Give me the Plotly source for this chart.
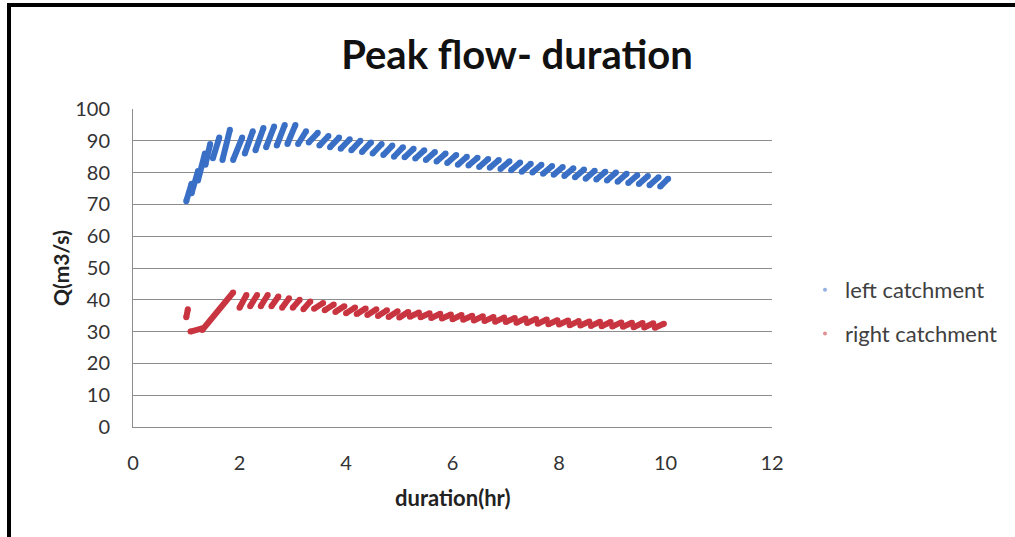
import plotly.graph_objects as go

# ---- data: each "tooth" of the sawtooth (start t, start Q, end t, end Q)
left_t0 = [1.00, 1.10, 1.22, 1.36, 1.50, 1.68, 1.88, 2.10, 2.30, 2.50, 2.70, 2.90, 3.10,
           3.30, 3.50, 3.70, 3.90, 4.10, 4.30, 4.50, 4.70, 4.90, 5.10, 5.30, 5.50, 5.70, 5.90,
           6.10, 6.30, 6.50, 6.70, 6.90, 7.10, 7.30, 7.50, 7.70, 7.90, 8.10, 8.30, 8.50, 8.70,
           8.90, 9.10, 9.30, 9.50, 9.70, 9.90]
left_q0 = [71.0, 73.5, 77.5, 82.5, 84.5, 84.0, 84.0, 86.0, 87.0, 88.0, 88.5, 89.0, 89.0,
           89.5, 88.5, 88.0, 87.5, 87.0, 86.5, 86.0, 85.5, 85.0, 84.8, 84.4, 84.0, 83.5, 83.0,
           82.5, 82.2, 81.8, 81.5, 81.1, 80.7, 80.3, 80.0, 79.6, 79.3, 78.9, 78.5, 78.1, 77.8,
           77.5, 77.1, 76.7, 76.4, 76.0, 75.6]
left_t1 = [1.10, 1.22, 1.35, 1.45, 1.62, 1.82, 2.05, 2.25, 2.45, 2.65, 2.85, 3.05, 3.25,
           3.47, 3.67, 3.87, 4.07, 4.27, 4.47, 4.67, 4.87, 5.07, 5.27, 5.47, 5.67, 5.87, 6.07,
           6.27, 6.47, 6.67, 6.87, 7.07, 7.27, 7.47, 7.67, 7.87, 8.07, 8.27, 8.47, 8.67, 8.87,
           9.07, 9.27, 9.47, 9.67, 9.87, 10.05]
left_q1 = [76.5, 80.5, 86.0, 89.0, 91.0, 93.5, 91.0, 93.0, 94.0, 94.5, 95.0, 95.0, 93.0,
           92.5, 91.5, 91.0, 90.5, 90.0, 89.5, 89.0, 88.5, 88.0, 87.5, 87.0, 86.5, 86.0, 85.5,
           85.0, 84.7, 84.3, 84.0, 83.6, 83.2, 82.8, 82.5, 82.1, 81.8, 81.4, 81.0, 80.6, 80.3,
           80.0, 79.6, 79.2, 78.9, 78.5, 78.1]

right_t0 = [1.00, 1.08, 1.30, 2.00, 2.20, 2.40, 2.60, 2.80, 3.00, 3.20,
            3.40, 3.60, 3.80, 4.00, 4.20, 4.40, 4.60, 4.80, 5.00, 5.20, 5.40, 5.60, 5.80,
            6.00, 6.20, 6.40, 6.60, 6.80, 7.00, 7.20, 7.40, 7.60, 7.80, 8.00, 8.20, 8.40,
            8.60, 8.80, 9.00, 9.20, 9.40, 9.60, 9.80]
right_q0 = [34.5, 30.0, 30.5, 37.5, 38.0, 38.0, 38.0, 37.5, 37.5, 37.0,
            37.2, 36.7, 36.2, 35.8, 35.5, 35.2, 34.9, 34.6, 34.4, 34.7, 34.5, 34.3, 34.1,
            33.9, 33.7, 33.5, 33.3, 33.1, 33.0, 32.8, 32.7, 32.5, 32.3, 32.2, 32.0, 31.9,
            31.8, 31.7, 31.6, 31.5, 31.4, 31.3, 31.2]
right_t1 = [1.03, 1.30, 1.88, 2.13, 2.33, 2.53, 2.73, 2.93, 3.13, 3.33,
            3.57, 3.77, 3.97, 4.17, 4.37, 4.57, 4.77, 4.97, 5.17, 5.37, 5.57, 5.77, 5.97,
            6.17, 6.37, 6.57, 6.77, 6.97, 7.17, 7.37, 7.57, 7.77, 7.97, 8.17, 8.37, 8.57,
            8.77, 8.97, 9.17, 9.37, 9.57, 9.77, 9.97]
right_q1 = [37.0, 31.0, 42.3, 41.5, 41.5, 41.5, 41.0, 40.5, 40.0, 39.5,
            39.0, 38.5, 38.0, 37.6, 37.3, 37.0, 36.7, 36.4, 36.2, 36.0, 35.8, 35.6, 35.4,
            35.2, 35.0, 34.8, 34.6, 34.4, 34.3, 34.1, 34.0, 33.8, 33.6, 33.5, 33.3, 33.2,
            33.1, 33.0, 32.9, 32.8, 32.7, 32.6, 32.5]

series_names = ["left catchment", "right catchment"]
x_ticks = [0, 2, 4, 6, 8, 10, 12]
y_ticks = [0, 10, 20, 30, 40, 50, 60, 70, 80, 90, 100]

BLUE = "#3a6fc6"
RED = "#c8343f"
FONT = "Lato, Carlito, Calibri, sans-serif"


def segs(t0, q0, t1, q1):
    xs, ys = [], []
    for a, b, c, d in zip(t0, q0, t1, q1):
        xs += [a, c, None]
        ys += [b, d, None]
    return xs, ys


fig = go.Figure()
for (t0, q0, t1, q1), color in [((left_t0, left_q0, left_t1, left_q1), BLUE),
                                ((right_t0, right_q0, right_t1, right_q1), RED)]:
    xs, ys = segs(t0, q0, t1, q1)
    fig.add_trace(go.Scatter(x=xs, y=ys, mode="lines+markers",
                             line=dict(color=color, width=6),
                             marker=dict(color=color, size=6),
                             connectgaps=False, showlegend=False, hoverinfo="skip"))

# legend entries
for i, (name, color) in enumerate(zip(series_names, [BLUE, RED])):
    fig.add_trace(go.Scatter(x=[None], y=[None], mode="markers", name=name,
                             legendgroup=name,
                             marker=dict(color=color, size=4, opacity=0.55)))

W, H = 1015, 537
L, T = 133, 109
R = W - 772
B = H - 427
pw, ph = W - L - R, H - T - B


def px(xp):
    return (xp - L) / pw


def py(yp):
    return (H - B - yp) / ph


fig.update_layout(
    width=W, height=H,
    margin=dict(l=L, r=R, t=T, b=B, autoexpand=False),
    paper_bgcolor="white", plot_bgcolor="white",
    font=dict(family=FONT, color="#333333"),
    title=dict(text="<b>Peak flow- duration</b>", x=517 / W, xanchor="center",
               y=1 - 55 / H, yanchor="middle", yref="container",
               font=dict(size=40, color="#111111", family=FONT)),
    xaxis=dict(range=[0, 12], tickvals=x_ticks, showgrid=False, zeroline=False,
               showline=True, linecolor="#8c8c8c", linewidth=1,
               ticks="", tickfont=dict(size=20, color="#333333"),
               ticklabelstandoff=18),
    yaxis=dict(range=[0, 100], tickvals=y_ticks, showgrid=True, gridcolor="#8c8c8c",
               gridwidth=1, zeroline=False, showline=True, linecolor="#8c8c8c",
               linewidth=1, ticks="", tickfont=dict(size=20, color="#333333"),
               ticklabelstandoff=18),
    legend=dict(x=px(805), y=py(269), xanchor="left", yanchor="top",
                font=dict(size=22, color="#404040", family=FONT),
                tracegroupgap=12, itemwidth=30, bgcolor="rgba(0,0,0,0)"),
    showlegend=True,
)

fig.add_annotation(text="<b>duration(hr)</b>", x=0.5, y=py(497), xref="paper", yref="paper",
                   showarrow=False, xanchor="center", yanchor="middle",
                   font=dict(size=22, color="#222222", family=FONT))
fig.add_annotation(text="<b>Q(m3/s)</b>", x=px(60), y=0.5, xref="paper", yref="paper",
                   showarrow=False, textangle=-90, xanchor="center", yanchor="middle",
                   font=dict(size=21, color="#222222", family=FONT))

# outer chart frame (black on top and left)
fig.add_shape(type="line", xref="paper", yref="paper", x0=px(7), x1=px(1030),
              y0=py(5), y1=py(5), line=dict(color="black", width=4))
fig.add_shape(type="line", xref="paper", yref="paper", x0=px(9), x1=px(9),
              y0=py(3), y1=py(560), line=dict(color="black", width=4))

fig.write_html("out.html", config={"displayModeBar": False},
               post_script="document.body.style.margin='0';document.body.style.overflow='hidden';")
